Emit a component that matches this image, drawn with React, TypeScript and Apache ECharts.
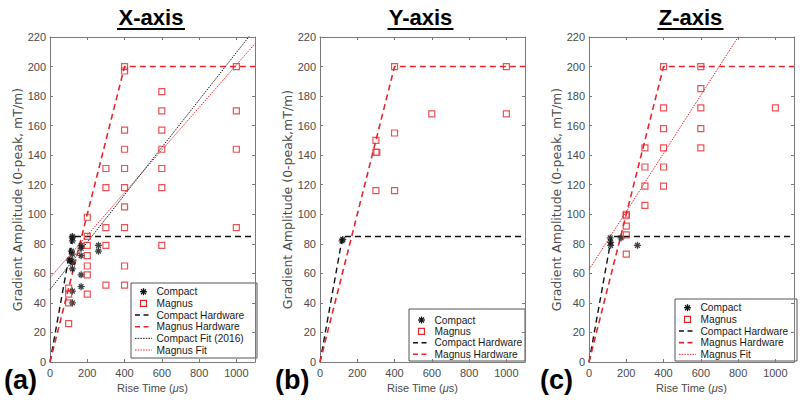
import React, { useEffect, useRef } from 'react';
import * as echarts from 'echarts';

// ---------- data ----------
const xTickMax = 1000;
const panelTitles = ['X-axis', 'Y-axis', 'Z-axis'];
const panelLetters = ['(a)', '(b)', '(c)'];
const yNames = [
  'Gradient Amplitude (0-peak, mT/m)',
  'Gradient Amplitude (0-peak,mT/m)',
  'Gradient Amplitude (0-peak, mT/m)',
];

// Panel (a) X-axis
const compactA = [
  [120, 85], [120, 84], [120, 82], [115, 75], [120, 73], [104, 69], [113, 69],
  [120, 67], [120, 63], [120, 48], [120, 40], [167, 79], [167, 77], [167, 72],
  [167, 59], [167, 51], [260, 79], [260, 75],
];
const magnusA = [
  [100, 50], [100, 46], [100, 40], [100, 26],
  [200, 98], [200, 85], [200, 79], [200, 72], [200, 65], [200, 59], [200, 46],
  [300, 131], [300, 118], [300, 91], [300, 79], [300, 52],
  [400, 200], [400, 197], [400, 157], [400, 144], [400, 131], [400, 118],
  [400, 105], [400, 91], [400, 65], [400, 52],
  [600, 183], [600, 170], [600, 157], [600, 144], [600, 131], [600, 118], [600, 79],
  [1000, 200], [1000, 170], [1000, 144], [1000, 91],
];
const compactFitA = [[0, 49], [1100, 225.5]];
const magnusFitA = [[0, 57], [1100, 215.5]];

// Panel (b) Y-axis
const compactB = [[118, 82], [122, 83]];
const magnusB = [
  [300, 150], [300, 142], [305, 142], [300, 116],
  [400, 200], [400, 155], [400, 116],
  [600, 168], [1000, 200], [1000, 168],
];

// Panel (c) Z-axis
const compactC = [[114, 84], [116, 81], [116, 79], [172, 84], [260, 79]];
const magnusC = [
  [200, 100], [200, 99], [200, 92], [200, 86], [200, 73],
  [300, 145], [300, 132], [300, 119], [300, 106],
  [400, 200], [400, 172], [400, 158], [400, 145], [400, 132], [400, 119],
  [600, 200], [600, 185], [600, 172], [600, 158], [600, 145],
  [1000, 172],
];
const magnusFitC = [[0, 62.5], [1100, 279]];

// Hardware limits (shared)
const compactHardware = [[0, 0], [121, 85], [1100, 85]];
const magnusHardware = [[0, 0], [400, 200], [1100, 200]];

const legendA = ['Compact', 'Magnus', 'Compact Hardware', 'Magnus Hardware', 'Compact Fit (2016)', 'Magnus Fit'];
const legendB = ['Compact', 'Magnus', 'Compact Hardware', 'Magnus Hardware'];
const legendC = ['Compact', 'Magnus', 'Compact Hardware', 'Magnus Hardware', 'Magnus Fit'];

// ---------- styling ----------
const AXIS = '#7a7a7a';
const LABEL = '#4a4a4a';
const RED = '#e8262b';
const BLACK = '#111111';
const FONT = "'Liberation Sans', Arial, Helvetica, sans-serif";
const YFONT = "'DejaVu Sans', 'Liberation Sans', sans-serif";
const ASTERISK = 'path://M5,0L5,10M0,5L10,5M1.6,1.6L8.4,8.4M1.6,8.4L8.4,1.6';
const DASH = [6, 4];
const DOT = [1.5, 1.2];

const grids = [
  { left: 50, top: 37, width: 205, height: 325 },
  { left: 320, top: 37, width: 205, height: 325 },
  { left: 589, top: 37, width: 205, height: 325 },
];
const yNameGaps = [23, 24.5, 23];
const titleCenters = [151, 420.5, 690.5];
const titleHalfWidths = [34, 33, 33];
const letterLefts = [4, 275, 540];

const legendBoxes = [
  { names: legendA, left: 131, top: 283, width: 126, height: 75, y0: 291.7, step: 11.66 },
  { names: legendB, left: 409, top: 309, width: 116, height: 52, y0: 320, step: 11.4 },
  { names: legendC, left: 675, top: 299, width: 122, height: 62, y0: 307.7, step: 11.65 },
];

function xAxisBottom(i: number) {
  return {
    type: 'value', gridIndex: i, min: 0, max: 1100, interval: 200, position: 'bottom',
    axisLine: { show: true, onZero: false, lineStyle: { color: AXIS, width: 1 } },
    axisTick: { show: true, inside: true, length: 3, lineStyle: { color: AXIS } },
    axisLabel: {
      color: LABEL, fontSize: 11, fontFamily: FONT, margin: 5, showMaxLabel: false,
      formatter: (v: number) => (v > xTickMax ? '' : String(v)),
    },
    splitLine: { show: false },
    name: 'Rise Time ({i|μ}s)', nameLocation: 'middle', nameGap: 17,
    nameTextStyle: {
      color: LABEL, fontSize: 11, fontFamily: FONT,
      rich: { i: { fontStyle: 'italic', fontSize: 11, color: LABEL, fontFamily: FONT } },
    },
  };
}
function xAxisTop(i: number) {
  return {
    type: 'value', gridIndex: i, min: 0, max: 1100, interval: 200, position: 'top',
    axisLine: { show: true, onZero: false, lineStyle: { color: AXIS, width: 1 } },
    axisTick: { show: true, inside: true, length: 3, lineStyle: { color: AXIS } },
    axisLabel: { show: false }, splitLine: { show: false },
  };
}
function yAxisLeft(i: number) {
  return {
    type: 'value', gridIndex: i, min: 0, max: 220, interval: 20, position: 'left',
    axisLine: { show: true, onZero: false, lineStyle: { color: AXIS, width: 1 } },
    axisTick: { show: true, inside: true, length: 3, lineStyle: { color: AXIS } },
    axisLabel: { color: LABEL, fontSize: 11, fontFamily: FONT, margin: 4 },
    splitLine: { show: false },
    name: yNames[i], nameLocation: 'middle', nameGap: yNameGaps[i],
    nameTextStyle: { color: LABEL, fontSize: 12.5, fontFamily: YFONT },
  };
}
function yAxisRight(i: number) {
  return {
    type: 'value', gridIndex: i, min: 0, max: 220, interval: 20, position: 'right',
    axisLine: { show: true, onZero: false, lineStyle: { color: AXIS, width: 1 } },
    axisTick: { show: true, inside: true, length: 3, lineStyle: { color: AXIS } },
    axisLabel: { show: false }, splitLine: { show: false },
  };
}

function scatter(name: string, data: number[][], i: number, symbol: string, color: string, size: number, bw: number) {
  return {
    type: 'scatter', name, xAxisIndex: i, yAxisIndex: i, data, symbol, symbolSize: size,
    itemStyle: { color: 'rgba(0,0,0,0)', borderColor: color, borderWidth: bw },
    z: 3, silent: true,
  };
}
function line(name: string, data: number[][], i: number, color: string, type: any, width: number) {
  return {
    type: 'line', name, xAxisIndex: i, yAxisIndex: i, data, symbol: 'none', showSymbol: false,
    lineStyle: { color, type, width }, itemStyle: { color }, clip: true, z: 2, silent: true,
  };
}

function legendIcon(name: string, cx: number, cy: number): any[] {
  const x1 = cx - 8.5, x2 = cx + 8.5;
  switch (name) {
    case 'Compact': {
      const r = 3.5, d = 2.5;
      const st = { stroke: BLACK, lineWidth: 1.3 };
      return [
        { type: 'line', shape: { x1: cx - r, y1: cy, x2: cx + r, y2: cy }, style: st },
        { type: 'line', shape: { x1: cx, y1: cy - r, x2: cx, y2: cy + r }, style: st },
        { type: 'line', shape: { x1: cx - d, y1: cy - d, x2: cx + d, y2: cy + d }, style: st },
        { type: 'line', shape: { x1: cx - d, y1: cy + d, x2: cx + d, y2: cy - d }, style: st },
      ];
    }
    case 'Magnus':
      return [{ type: 'rect', shape: { x: cx - 3, y: cy - 3, width: 6, height: 6 }, style: { fill: 'none', stroke: RED, lineWidth: 1.2 } }];
    case 'Compact Hardware':
      return [{ type: 'line', shape: { x1, y1: cy, x2, y2: cy }, style: { stroke: BLACK, lineWidth: 1.4, lineDash: [5, 3.5] } }];
    case 'Magnus Hardware':
      return [{ type: 'line', shape: { x1, y1: cy, x2, y2: cy }, style: { stroke: RED, lineWidth: 1.6, lineDash: [5, 3.5] } }];
    case 'Compact Fit (2016)':
      return [{ type: 'line', shape: { x1, y1: cy, x2, y2: cy }, style: { stroke: BLACK, lineWidth: 1, lineDash: DOT } }];
    default:
      return [{ type: 'line', shape: { x1, y1: cy, x2, y2: cy }, style: { stroke: RED, lineWidth: 1, lineDash: DOT } }];
  }
}

export default function App() {
  const ref = useRef<HTMLDivElement>(null);
  useEffect(() => {
    if (!ref.current) return;
    const chart = echarts.init(ref.current, undefined, { renderer: 'svg' });
    const series: any[] = [
      // (a)
      line('Compact Hardware', compactHardware, 0, BLACK, DASH, 1.4),
      line('Magnus Hardware', magnusHardware, 0, RED, DASH, 1.6),
      line('Compact Fit (2016)', compactFitA, 0, BLACK, DOT, 1),
      line('Magnus Fit', magnusFitA, 0, RED, DOT, 1),
      scatter('Compact', compactA, 0, ASTERISK, BLACK, 7, 1.3),
      scatter('Magnus', magnusA, 0, 'rect', RED, 6, 1.2),
      // (b)
      line('Compact Hardware', compactHardware, 1, BLACK, DASH, 1.4),
      line('Magnus Hardware', magnusHardware, 1, RED, DASH, 1.6),
      scatter('Compact', compactB, 1, ASTERISK, BLACK, 7, 1.3),
      scatter('Magnus', magnusB, 1, 'rect', RED, 6, 1.2),
      // (c)
      line('Compact Hardware', compactHardware, 2, BLACK, DASH, 1.4),
      line('Magnus Hardware', magnusHardware, 2, RED, DASH, 1.6),
      line('Magnus Fit', magnusFitC, 2, RED, DOT, 1),
      scatter('Compact', compactC, 2, ASTERISK, BLACK, 7, 1.3),
      scatter('Magnus', magnusC, 2, 'rect', RED, 6, 1.2),
    ];

    const graphics: any[] = [];
    panelTitles.forEach((t, i) => {
      graphics.push({
        type: 'text', x: titleCenters[i], y: 6, z: 20,
        style: { text: t, font: `bold 22px ${FONT}`, fill: '#000', align: 'center', verticalAlign: 'top' },
      });
      graphics.push({
        type: 'line', z: 20,
        shape: { x1: titleCenters[i] - titleHalfWidths[i], y1: 29, x2: titleCenters[i] + titleHalfWidths[i], y2: 29 },
        style: { stroke: '#000', lineWidth: 2 },
      });
      graphics.push({
        type: 'text', x: letterLefts[i], y: 380, z: 20,
        style: { text: panelLetters[i], font: `bold 27px ${FONT}`, fill: '#000', align: 'left', verticalAlign: 'middle' },
      });
    });

    legendBoxes.forEach((b) => {
      const children: any[] = [
        { type: 'rect', shape: { x: b.left, y: b.top, width: b.width, height: b.height },
          style: { fill: '#ffffff', stroke: '#555555', lineWidth: 1 } },
      ];
      b.names.forEach((n, k) => {
        const cy = b.y0 + k * b.step;
        const cx = b.left + 12.5;
        children.push(...legendIcon(n, cx, cy));
        children.push({
          type: 'text', x: b.left + 25.5, y: cy,
          style: { text: n, font: `10.2px ${FONT}`, fill: '#1a1a1a', align: 'left', verticalAlign: 'middle' },
        });
      });
      graphics.push({ type: 'group', z: 30, silent: true, children });
    });

    chart.setOption({
      animation: false,
      backgroundColor: '#ffffff',
      grid: grids.map((g) => ({ ...g, containLabel: false, outerBoundsMode: 'none', show: false })),
      xAxis: [0, 1, 2].map(xAxisBottom).concat([0, 1, 2].map(xAxisTop) as any),
      yAxis: [0, 1, 2].map(yAxisLeft).concat([0, 1, 2].map(yAxisRight) as any),
      series,
      graphic: graphics,
    } as any);
    return () => chart.dispose();
  }, []);
  return (
    <div
      ref={ref}
      style={{ position: 'fixed', left: 0, top: 0, width: 800, height: 407, background: '#fff' }}
    />
  );
}
